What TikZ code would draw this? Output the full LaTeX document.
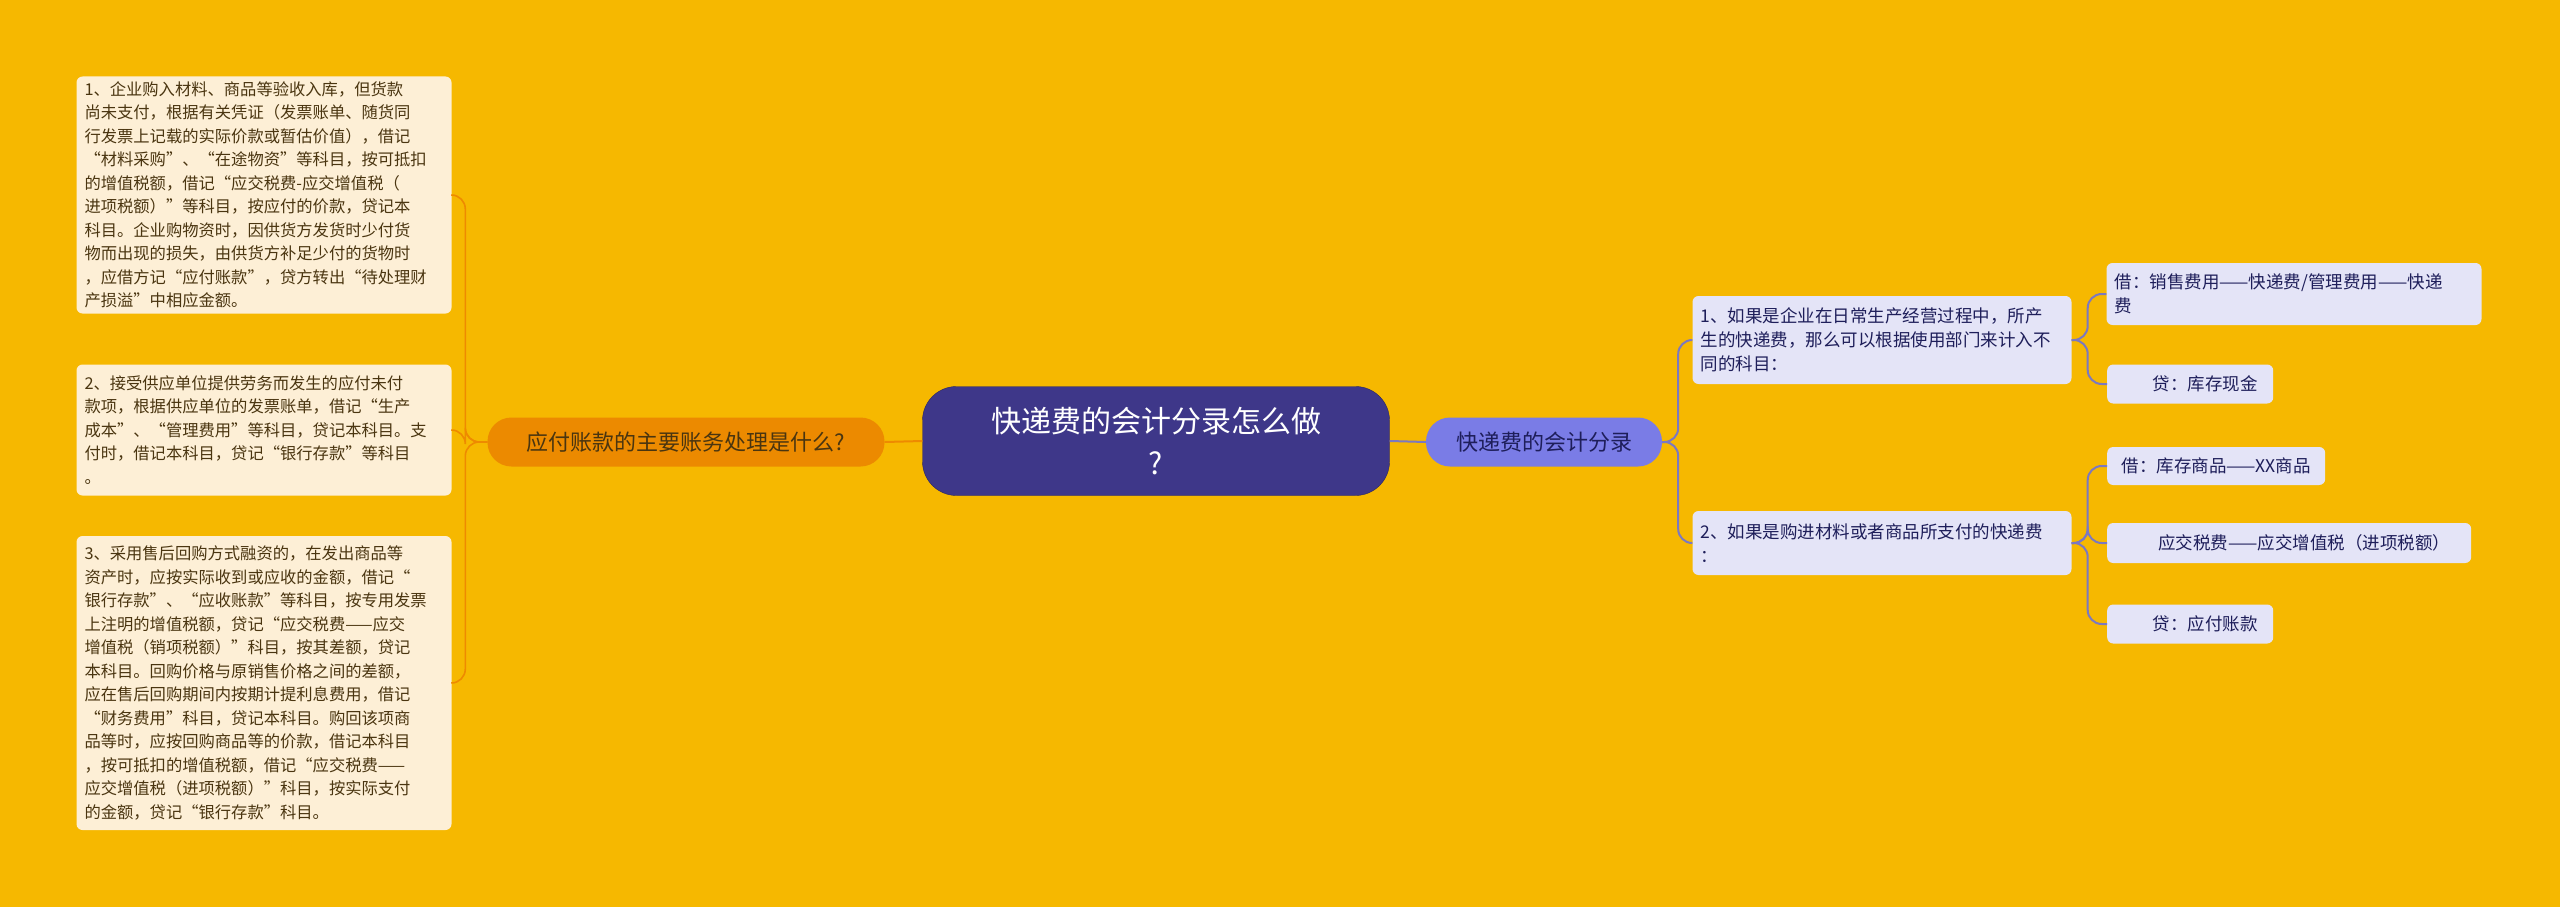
\documentclass[tikz,border=0pt]{standalone}
\usepackage{fontspec}
\setmainfont{Noto Sans CJK SC}
\begin{document}
\begin{tikzpicture}[x=1pt,y=-1pt,
 lbox/.style={draw=none,fill=leafL,rounded corners=6pt,minimum width=375pt,text width=359pt,align=left,inner xsep=8pt,font=\fontsize{16.3}{23.5}\selectfont,text=textL},
 rbox/.style={draw=none,fill=leafR,rounded corners=6pt,align=left,inner xsep=8pt,font=\fontsize{17.5}{24}\selectfont,text=textR},
 lcon/.style={draw=lineL,line width=1.6pt,rounded corners=14pt},
 rcon/.style={draw=lineR,line width=2pt,rounded corners=14pt}]
\definecolor{bg}{HTML}{F6B800}
\definecolor{leafL}{HTML}{FDEFD6}
\definecolor{textL}{HTML}{4A3510}
\definecolor{leafR}{HTML}{E4E4F7}
\definecolor{textR}{HTML}{1E1E5A}
\definecolor{lineL}{HTML}{EE8A00}
\definecolor{lineR}{HTML}{7C78C0}
\definecolor{center}{HTML}{3E3789}
\definecolor{midL}{HTML}{EC8A00}
\definecolor{midR}{HTML}{7A7CE6}
\fill[bg] (0,0) rectangle (2560,907);
\useasboundingbox (0,0) rectangle (2560,907);

\node[fill=center,draw=center!70!black,rounded corners=34pt,minimum width=467pt,minimum height=109pt,text=white,align=center,font=\fontsize{30}{42}\selectfont] (c) at (1156,441) {快递费的会计分录怎么做\\?};
\node[fill=midL,rounded corners=24pt,minimum width=397pt,minimum height=49pt,text=textL,font=\fontsize{22}{26}\selectfont] (lm) at (686,442) {应付账款的主要账务处理是什么?};
\node[fill=midR,rounded corners=24pt,minimum width=236pt,minimum height=49pt,text=textR,font=\fontsize{22}{26}\selectfont] (rm) at (1544,442) {快递费的会计分录};

\node[lbox,minimum height=237pt] (b1) at (264,195) {1、企业购入材料、商品等验收入库，但货款\\尚未支付，根据有关凭证（发票账单、随货同\\行发票上记载的实际价款或暂估价值），借记\\“材料采购”、“在途物资”等科目，按可抵扣\\的增值税额，借记“应交税费-应交增值税（\\进项税额）”等科目，按应付的价款，贷记本\\科目。企业购物资时，因供货方发货时少付货\\物而出现的损失，由供货方补足少付的货物时\\，应借方记“应付账款”，贷方转出“待处理财\\产损溢”中相应金额。};
\node[lbox,minimum height=131pt] (b2) at (264,430) {2、接受供应单位提供劳务而发生的应付未付\\款项，根据供应单位的发票账单，借记“生产\\成本”、“管理费用”等科目，贷记本科目。支\\付时，借记本科目，贷记“银行存款”等科目\\。};
\node[lbox,minimum height=294pt] (b3) at (264,683) {3、采用售后回购方式融资的，在发出商品等\\资产时，应按实际收到或应收的金额，借记“\\银行存款”、“应收账款”等科目，按专用发票\\上注明的增值税额，贷记“应交税费——应交\\增值税（销项税额）”科目，按其差额，贷记\\本科目。回购价格与原销售价格之间的差额，\\应在售后回购期间内按期计提利息费用，借记\\“财务费用”科目，贷记本科目。购回该项商\\品等时，应按回购商品等的价款，借记本科目\\，按可抵扣的增值税额，借记“应交税费——\\应交增值税（进项税额）”科目，按实际支付\\的金额，贷记“银行存款”科目。};

\node[rbox,minimum width=379pt,text width=363pt,minimum height=88pt] (r1) at (1882,340) {1、如果是企业在日常生产经营过程中，所产\\生的快递费，那么可以根据使用部门来计入不\\同的科目：};
\node[rbox,minimum width=379pt,text width=363pt,minimum height=64pt] (r2) at (1882,543) {2、如果是购进材料或者商品所支付的快递费\\：};

\node[rbox,minimum width=375pt,text width=359pt,minimum height=62pt] (l1) at (2294,294) {借：销售费用——快递费/管理费用——快递\\费};
\node[rbox,minimum width=166pt,minimum height=39pt,anchor=west] (l2) at (2107,384) {\hspace{30pt}贷：库存现金};
\node[rbox,minimum width=218pt,minimum height=38pt,anchor=west] (l3) at (2107,466) {借：库存商品——XX商品};
\node[rbox,minimum width=364pt,minimum height=40pt,anchor=west] (l4) at (2107,543) {\hspace{30pt}应交税费——应交增值税（进项税额）};
\node[rbox,minimum width=166pt,minimum height=39pt,anchor=west] (l5) at (2107,624) {\hspace{30pt}贷：应付账款};

\draw[lineL,line width=2pt] (c.west) -- (lm.east);
\draw[lineR,line width=2pt] (c.east) -- (rm.west);
\foreach \t in {b1,b2,b3}{\draw[lcon] (lm.west) -- ++(-22,0) |- (\t.east);}
\foreach \t in {r1,r2}{\draw[rcon] (rm.east) -- ++(16,0) |- (\t.west);}
\foreach \t in {l1,l2}{\draw[rcon] (r1.east) -- ++(16,0) |- (\t.west);}
\foreach \t in {l3,l4,l5}{\draw[rcon] (r2.east) -- ++(16,0) |- (\t.west);}
\end{tikzpicture}
\end{document}
